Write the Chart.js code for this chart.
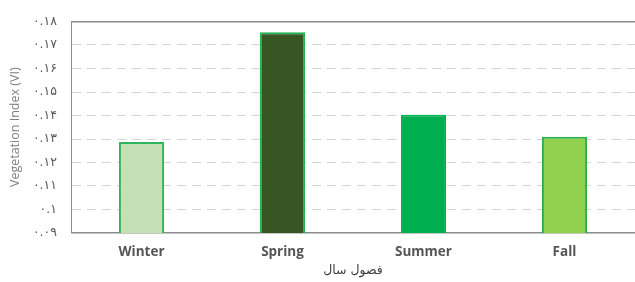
<!DOCTYPE html>
<html>
<head>
<meta charset="utf-8">
<script src="https://cdn.jsdelivr.net/npm/chart.js@4.4.0/dist/chart.umd.min.js"></script>
<style>
  body { margin: 0; background: #fff; overflow: hidden; }
  #wrap { width: 635px; height: 282px; }
</style>
</head>
<body>
<div id="wrap"><canvas id="myChart"></canvas></div>
<script>
// data
const seasons = ['Winter', 'Spring', 'Summer', 'Fall']
const viValues = [0.1287, 0.1754, 0.1403, 0.1310]
const fillColors = ['#c5e0b4', '#375623', '#00b050', '#92d050']
const edgeColors = ['#2fb35c', '#1fb456', '#00b050', '#2aae4e']
const yTickLabels = ['۰.۰۹', '۰.۱', '۰.۱۱', '۰.۱۲', '۰.۱۳', '۰.۱۴', '۰.۱۵', '۰.۱۶', '۰.۱۷', '۰.۱۸']

const last = yTickLabels.length - 1

const ctx = document.getElementById('myChart').getContext('2d')
const chart = new Chart(ctx, {
    type: 'bar',
    data: {
        labels: seasons,
        datasets: [{
            label: 'Vegetation Index (VI)',
            data: viValues,
            backgroundColor: fillColors,
            borderColor: edgeColors,
            borderWidth: 2,
            borderSkipped: false,
            categoryPercentage: 1,
            barPercentage: 0.32
        }]
    },
    options: {
        responsive: true,
        maintainAspectRatio: false,
        animation: false,
        layout: { padding: { top: 20, right: 0, left: 0, bottom: 0 } },
        plugins: {
            legend: { display: false },
            tooltip: { enabled: false }
        },
        scales: {
            x: {
                grid: { display: false },
                border: { display: false },
                ticks: {
                    color: '#555555',
                    padding: 3,
                    font: { family: '"Open Sans", "DejaVu Sans"', size: 13.5, weight: 'bold' }
                },
                title: {
                    display: true,
                    text: 'فصول سال',
                    color: '#404040',
                    padding: { top: 0, bottom: 4 },
                    font: { family: '"DejaVu Sans"', size: 12.5 }
                },
                afterFit: s => { s.height = 49 }
            },
            y: {
                min: 0.09,
                max: 0.18,
                ticks: {
                    stepSize: 0.01,
                    color: '#595959',
                    padding: 14,
                    font: { family: '"DejaVu Sans"', size: 12.5 },
                    callback: (v, i) => yTickLabels[i]
                },
                grid: {
                    drawTicks: false,
                    lineWidth: c => (c.index === last || c.index === 0) ? 1.5 : 1,
                    color: c => (c.index === last || c.index === 0) ? '#8c8c8c' : '#d4d4d4'
                },
                border: {
                    display: true,
                    color: '#8c8c8c',
                    width: 1,
                    dash: c => (c.index === last || c.index === 0) ? [] : [9, 6]
                },
                title: {
                    display: true,
                    text: 'Vegetation Index (VI)',
                    color: '#7f7f7f',
                    padding: { top: 8, bottom: 0 },
                    font: { family: '"Open Sans", "DejaVu Sans"', size: 12.5 }
                },
                afterFit: s => { s.width = 71 }
            }
        }
    }
})
</script>
</body>
</html>
